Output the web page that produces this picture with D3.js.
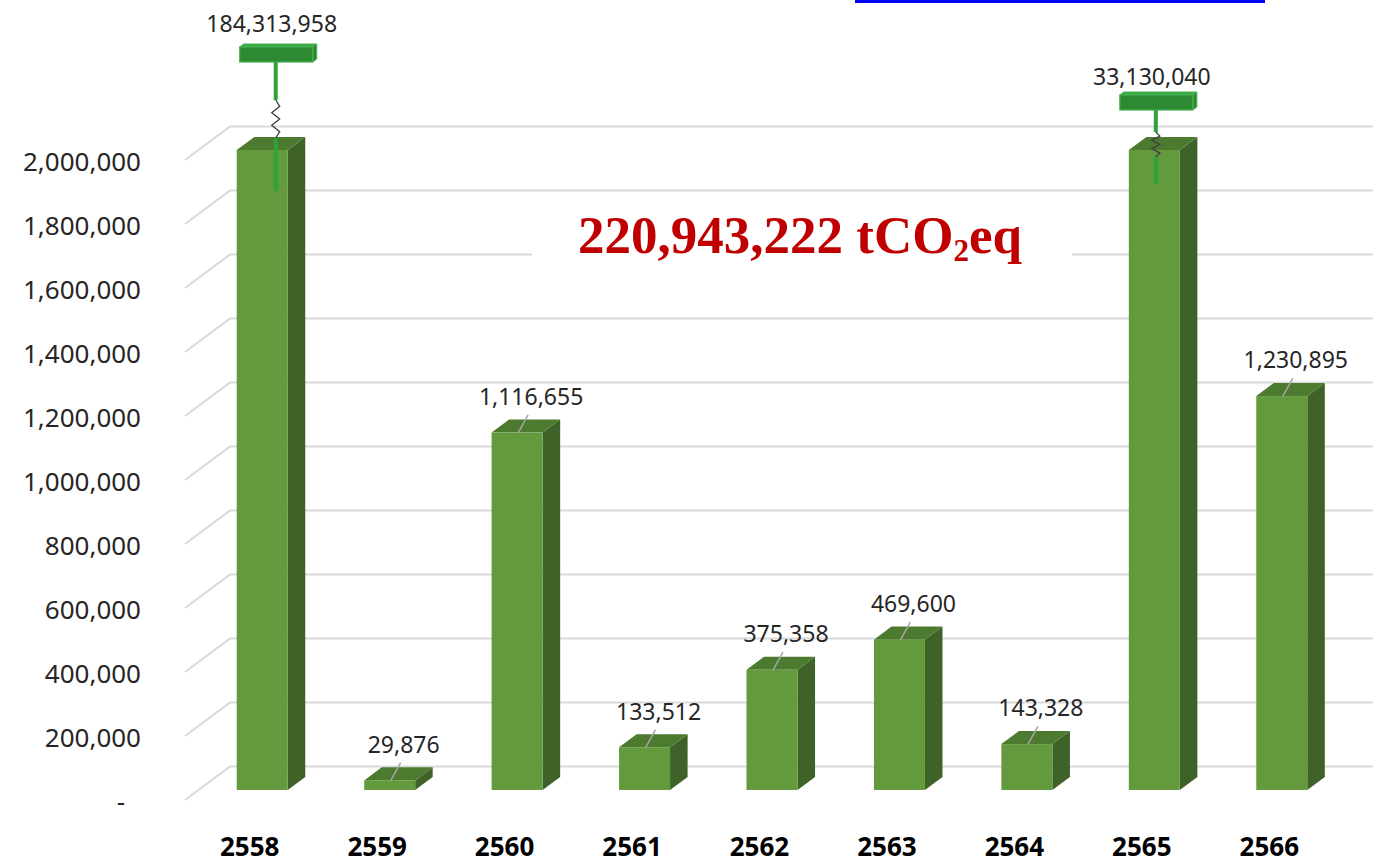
<!DOCTYPE html>
<html>
<head>
<meta charset="utf-8">
<script src="https://cdn.jsdelivr.net/npm/d3@7"></script>
<style>
  html, body { margin: 0; padding: 0; background: #ffffff; }
  svg { display: block; }
</style>
</head>
<body>
<svg id="chart" width="1373" height="865"></svg>
<script>
// ---------------- data ----------------
const years = ["2558", "2559", "2560", "2561", "2562", "2563", "2564", "2565", "2566"];
const values = [184313958, 29876, 1116655, 133512, 375358, 469600, 143328, 33130040, 1230895];
const yTicks = [0, 200000, 400000, 600000, 800000, 1000000, 1200000, 1400000, 1600000, 1800000, 2000000];
const axisMax = 2000000;
const totalText = "220,943,222 tCO";
const totalSub = "2";
const totalTail = "eq";

// ---------------- layout ----------------
const W = 1373, H = 865;
const DX = 45, DY = 33.5;          // full depth offset of the 3D box
const d0 = 0.3, d1 = 0.69;         // bar depth (front / back)
const barW = 51;
const svg = d3.select("#chart");

const x = d3.scalePoint().domain(years).range([185, 1332]).padding(0.5);
const y = d3.scaleLinear().domain([0, axisMax]).range([800, 160]);
const fmt = d3.format(",");

// annotation layout for broken (off-scale) bars
const breakMarks = [
  { year: "2558", dx: 27, labelY: 32, boxY: 47, zigTop: 100, zigBot: 138, lineBot: 191 },
  { year: "2565", dx: 15, labelY: 85, boxY: 95, zigTop: 132, zigBot: 157, lineBot: 184 }
];

// ---------------- gridlines ----------------
const grid = svg.append("g");
grid.selectAll("path").data(yTicks).join("path")
  .attr("d", t => `M185,${y(t)} L${185 + DX},${y(t) - DY} L${W + 5},${y(t) - DY}`)
  .attr("fill", "none")
  .attr("stroke", "#d9d9d9")
  .attr("stroke-width", 2);

// y labels
svg.append("g").selectAll("text").data(yTicks).join("text")
  .attr("x", t => t === 0 ? 125 : 141)
  .attr("y", t => y(t) + 2)
  .attr("dy", "0.35em")
  .attr("text-anchor", "end")
  .attr("font-family", "'Noto Sans', sans-serif")
  .attr("font-size", 26)
  .attr("fill", "#262626")
  .text(t => t === 0 ? "-" : fmt(t));

// ---------------- title box ----------------
svg.append("rect")
  .attr("x", 532).attr("y", 192).attr("width", 540).attr("height", 98)
  .attr("fill", "#ffffff");

const title = svg.append("text")
  .attr("x", 578).attr("y", 253)
  .attr("font-family", "'Liberation Serif', 'Times New Roman', serif")
  .attr("font-weight", "bold")
  .attr("font-size", 53)
  .attr("fill", "#c00000");
title.append("tspan").text(totalText);
title.append("tspan").attr("font-size", 31).attr("dy", 8).text(totalSub);
title.append("tspan").attr("dy", -8).text(totalTail);

// ---------------- bars ----------------
const bars = svg.append("g");
years.forEach((yr, i) => {
  const v = Math.min(values[i], axisMax);
  const cx = x(yr);
  const x0 = cx - barW / 2 + DX * d0;
  const yTop = y(v) - DY * d0;
  const yBot = y(0) - DY * d0;
  const ddx = DX * (d1 - d0), ddy = DY * (d1 - d0);
  const g = bars.append("g");
  g.append("path")
    .attr("d", `M${x0 + barW},${yTop} L${x0 + barW + ddx},${yTop - ddy} L${x0 + barW + ddx},${yBot - ddy} L${x0 + barW},${yBot} Z`)
    .attr("fill", "#3f6229");
  g.append("path")
    .attr("d", `M${x0},${yTop} L${x0 + barW},${yTop} L${x0 + barW + ddx},${yTop - ddy} L${x0 + ddx},${yTop - ddy} Z`)
    .attr("fill", "#4c7a2e");
  g.append("rect")
    .attr("x", x0).attr("y", yTop).attr("width", barW).attr("height", yBot - yTop)
    .attr("fill", "#629a3d");
});

// ---------------- data labels (normal bars) ----------------
const lbl = svg.append("g");
years.forEach((yr, i) => {
  if (values[i] > axisMax) return;
  const cx = x(yr);
  const ax = cx + DX * 0.5;
  const ay = y(values[i]) - DY * 0.5;
  lbl.append("line")
    .attr("x1", ax - 8).attr("y1", ay + 7)
    .attr("x2", ax + 2).attr("y2", ay - 11)
    .attr("stroke", "#a6a6a6").attr("stroke-width", 1.5);
  lbl.append("text")
    .attr("x", ax + 5).attr("y", ay - 21)
    .attr("text-anchor", "middle")
    .attr("font-family", "'Noto Sans', sans-serif")
    .attr("font-size", 23)
    .attr("fill", "#262626")
    .text(fmt(values[i]));
});

// ---------------- break marks for off-scale bars ----------------
const brk = svg.append("g");
breakMarks.forEach(m => {
  const i = years.indexOf(m.year);
  const lx = x(m.year) + m.dx;
  const bx = lx - 36, bw = 73, bh = 15, by = m.boxY;
  brk.append("line")
    .attr("x1", lx).attr("y1", by + bh).attr("x2", lx).attr("y2", m.zigTop)
    .attr("stroke", "#2ea33a").attr("stroke-width", 4);
  brk.append("line")
    .attr("x1", lx).attr("y1", m.zigBot).attr("x2", lx).attr("y2", m.lineBot)
    .attr("stroke", "#2ea33a").attr("stroke-width", 4);
  const n = 6, step = (m.zigBot - m.zigTop) / n;
  const pts = d3.range(n + 1).map(k => [
    k === 0 || k === n ? lx : lx + (k % 2 ? 4 : -4),
    m.zigTop + k * step
  ]);
  brk.append("path")
    .attr("d", d3.line()(pts))
    .attr("fill", "none").attr("stroke", "#404040").attr("stroke-width", 1.3);
  brk.append("path")
    .attr("d", `M${bx},${by} L${bx + bw},${by} L${bx + bw + 4},${by - 3} L${bx + 4},${by - 3} Z`)
    .attr("fill", "#3cab45").attr("stroke", "#45b04f").attr("stroke-width", 1);
  brk.append("path")
    .attr("d", `M${bx + bw},${by} L${bx + bw + 4},${by - 3} L${bx + bw + 4},${by + bh - 3} L${bx + bw},${by + bh} Z`)
    .attr("fill", "#2a8a31").attr("stroke", "#45b04f").attr("stroke-width", 1);
  brk.append("rect")
    .attr("x", bx).attr("y", by).attr("width", bw).attr("height", bh)
    .attr("fill", "#2c8a33").attr("stroke", "#45b04f").attr("stroke-width", 1.2);
  brk.append("text")
    .attr("x", lx - 4).attr("y", m.labelY)
    .attr("text-anchor", "middle")
    .attr("font-family", "'Noto Sans', sans-serif")
    .attr("font-size", 23)
    .attr("fill", "#262626")
    .text(fmt(values[i]));
});

// ---------------- category labels ----------------
svg.append("g").selectAll("text").data(years).join("text")
  .attr("x", d => x(d) + 1)
  .attr("y", 856)
  .attr("text-anchor", "middle")
  .attr("font-family", "'Noto Sans', sans-serif")
  .attr("font-weight", "bold")
  .attr("font-size", 26)
  .attr("fill", "#000000")
  .text(d => d);

// ---------------- link underline at top ----------------
svg.append("rect")
  .attr("x", 855).attr("y", 0).attr("width", 410).attr("height", 3)
  .attr("fill", "#0000ff");
</script>
</body>
</html>
